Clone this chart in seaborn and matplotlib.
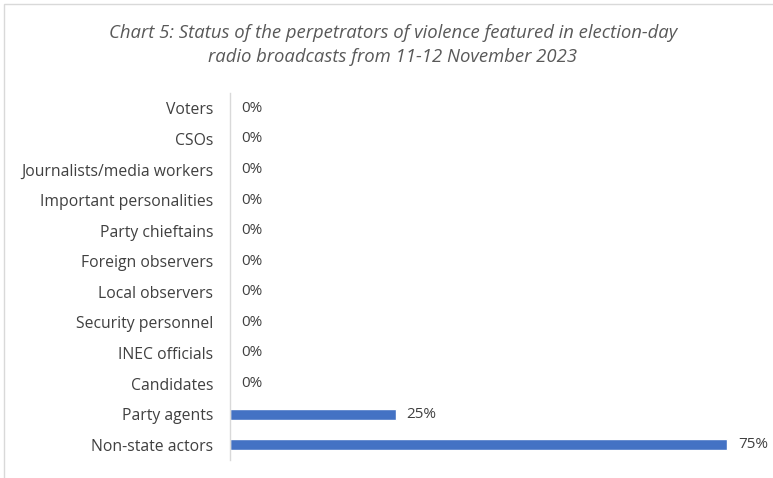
import matplotlib
matplotlib.use("Agg")
import matplotlib.pyplot as plt
import seaborn as sns
import pandas as pd
from matplotlib.patches import Rectangle

categories = ["Voters", "CSOs", "Journalists/media workers", "Important personalities",
              "Party chieftains", "Foreign observers", "Local observers",
              "Security personnel", "INEC officials", "Candidates",
              "Party agents", "Non-state actors"]
values = [0, 0, 0, 0, 0, 0, 0, 0, 0, 0, 0.25, 0.75]
value_labels = ["0%", "0%", "0%", "0%", "0%", "0%", "0%", "0%", "0%", "0%", "25%", "75%"]

df = pd.DataFrame({"category": categories, "share": values})

sns.set_theme(style="white")
plt.rcParams["font.family"] = ["Open Sans", "DejaVu Sans"]

fig = plt.figure(figsize=(7.73, 4.78), dpi=100)
ax = fig.add_axes([230 / 773, 1 - 460 / 478, 530 / 773, (460 - 93) / 478])

sns.barplot(data=df, y="category", x="share", color="#4472C4", width=0.36,
            saturation=1, ax=ax, orient="h")

ax.set_xlim(0, 0.8)
ax.set_ylim(len(categories) - 0.5, -0.5)
ax.set_xlabel("")
ax.set_ylabel("")
ax.set_xticks([])
for s in ["top", "right", "bottom"]:
    ax.spines[s].set_visible(False)
ax.spines["left"].set_color("#d9d9d9")
ax.spines["left"].set_linewidth(1.0)
ax.tick_params(axis="y", length=0, pad=12, labelsize=11.3, labelcolor="#404040")

for i, (v, lab) in enumerate(zip(values, value_labels)):
    ax.annotate(lab, (v, i), xytext=(8, 0), textcoords="offset points",
                va="center", ha="left", fontsize=11, color="#404040")

fig.text(393 / 773, 1 - 33 / 478, "Chart 5: Status of the perpetrators of violence featured in election-day",
         ha="center", va="center", fontsize=13.3, style="italic", color="#595959")
fig.text(393 / 773, 1 - 57 / 478, "radio broadcasts from 11-12 November 2023",
         ha="center", va="center", fontsize=13.3, style="italic", color="#595959")

fig.patches.append(Rectangle((4 / 773, -0.1), 1.2, 1 - 4 / 478 + 0.1,
                             transform=fig.transFigure, fill=False,
                             edgecolor="#d9d9d9", linewidth=1.0))

fig.savefig("out.png", dpi=100)
